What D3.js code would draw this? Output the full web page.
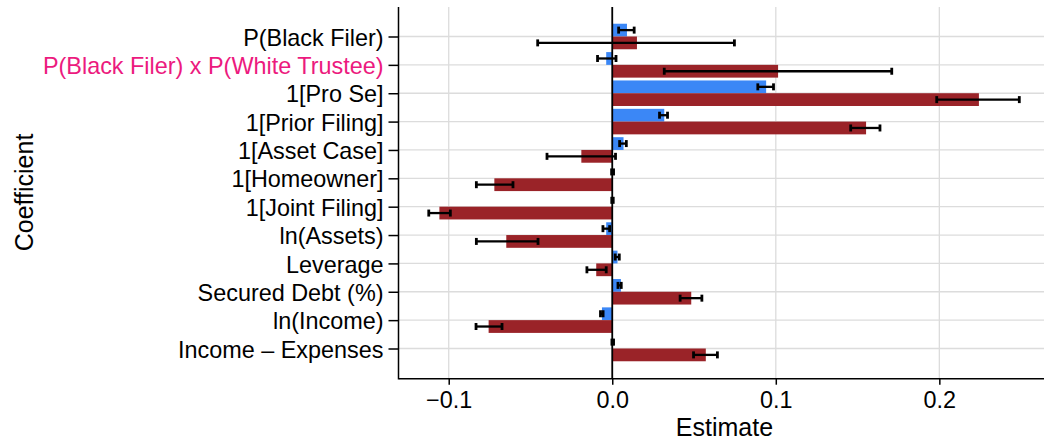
<!DOCTYPE html>
<html>
<head>
<meta charset="utf-8">
<script src="https://cdn.jsdelivr.net/npm/d3@7"></script>
<style>
  body { margin: 0; background: #fff; }
  svg text { font-family: "Liberation Sans", Arial, Helvetica, sans-serif; }
</style>
</head>
<body>
<svg id="chart" width="1044" height="441"></svg>
<script>
// coefficient names, top to bottom
var coefficients = [
  "P(Black Filer)",
  "P(Black Filer) x P(White Trustee)",
  "1[Pro Se]",
  "1[Prior Filing]",
  "1[Asset Case]",
  "1[Homeowner]",
  "1[Joint Filing]",
  "ln(Assets)",
  "Leverage",
  "Secured Debt (%)",
  "ln(Income)",
  "Income \u2013 Expenses"
];
var highlighted = "P(Black Filer) x P(White Trustee)";

// first model (blue bars, upper half of each row)
var blueEst = [0.009, -0.0037, 0.0941, 0.0318, 0.0069, 0.0003, 0.0002, -0.0037, 0.0032, 0.0053, -0.0063, 0.0003];
var blueLo  = [0.0039, -0.009, 0.089, 0.0289, 0.0045, -0.0004, -0.0003, -0.0057, 0.0018, 0.0035, -0.0072, -0.0002];
var blueHi  = [0.0134, 0.0023, 0.0986, 0.0338, 0.0086, 0.0008, 0.0006, -0.0016, 0.0043, 0.0055, -0.0056, 0.0008];

// second model (dark red bars, lower half of each row)
var redEst = [0.0151, 0.1014, 0.2242, 0.1552, -0.0189, -0.0721, -0.1057, -0.0648, -0.0098, 0.0483, -0.0756, 0.0572];
var redLo  = [-0.0456, 0.0318, 0.1984, 0.1458, -0.0399, -0.0831, -0.1122, -0.0831, -0.0155, 0.0415, -0.0833, 0.0497];
var redHi  = [0.0747, 0.1709, 0.2489, 0.1637, 0.002, -0.0607, -0.099, -0.0454, -0.0037, 0.0548, -0.0674, 0.0643];

var xTicks = [-0.1, 0.0, 0.1, 0.2];

var blueColor = "#3b87f6";
var redColor = "#9a2328";
var pink = "#ec1a7e";

var margin = {left: 399, right: 0, top: 7, bottom: 63};
var width = 1044, height = 441;
var svg = d3.select("#chart");

var x = d3.scaleLinear()
  .domain([-0.1304, 0.264])
  .range([margin.left, width - margin.right]);

var y = d3.scalePoint()
  .domain(coefficients)
  .range([margin.top, height - margin.bottom])
  .padding(1.04);

var step = y.step();
var half = step * 0.45;

// build rows for both series
var rows = [];
coefficients.forEach(function(c, i) {
  rows.push({coef: c, series: "blue", est: blueEst[i], lo: blueLo[i], hi: blueHi[i], off: -half});
  rows.push({coef: c, series: "red", est: redEst[i], lo: redLo[i], hi: redHi[i], off: 0});
});

// grid lines
svg.append("g").selectAll("line.vg")
  .data(xTicks)
  .enter().append("line")
  .attr("x1", function(d) { return x(d); })
  .attr("x2", function(d) { return x(d); })
  .attr("y1", margin.top)
  .attr("y2", height - margin.bottom)
  .attr("stroke", "#dcdcdc")
  .attr("stroke-width", 1.3);

svg.append("g").selectAll("line.hg")
  .data(coefficients)
  .enter().append("line")
  .attr("x1", margin.left)
  .attr("x2", width)
  .attr("y1", function(d) { return y(d); })
  .attr("y2", function(d) { return y(d); })
  .attr("stroke", "#dcdcdc")
  .attr("stroke-width", 1.3);

// bars
svg.append("g").selectAll("rect")
  .data(rows)
  .enter().append("rect")
  .attr("x", function(d) { return Math.min(x(0), x(d.est)); })
  .attr("width", function(d) { return Math.abs(x(d.est) - x(0)); })
  .attr("y", function(d) { return y(d.coef) + d.off; })
  .attr("height", half)
  .attr("fill", function(d) { return d.series === "blue" ? blueColor : redColor; });

// zero line
svg.append("line")
  .attr("x1", x(0)).attr("x2", x(0))
  .attr("y1", margin.top).attr("y2", height - margin.bottom)
  .attr("stroke", "#000")
  .attr("stroke-width", 1.8);

// error bars
var eb = svg.append("g").selectAll("g")
  .data(rows)
  .enter().append("g")
  .attr("stroke", "#000");

eb.append("line")
  .attr("x1", function(d) { return x(d.lo); })
  .attr("x2", function(d) { return x(d.hi); })
  .attr("y1", function(d) { return y(d.coef) + d.off + half / 2; })
  .attr("y2", function(d) { return y(d.coef) + d.off + half / 2; })
  .attr("stroke-width", 2.3);

["lo", "hi"].forEach(function(k) {
  eb.append("line")
    .attr("x1", function(d) { return x(d[k]); })
    .attr("x2", function(d) { return x(d[k]); })
    .attr("y1", function(d) { return y(d.coef) + d.off + half / 2 - 3.5; })
    .attr("y2", function(d) { return y(d.coef) + d.off + half / 2 + 3.5; })
    .attr("stroke-width", 2.8);
});

// axes
var xAxis = svg.append("g")
  .attr("transform", "translate(0," + (height - margin.bottom + 0.7) + ")")
  .call(d3.axisBottom(x).tickValues(xTicks).tickFormat(d3.format(".1f")).tickSizeInner(6).tickSizeOuter(0).tickPadding(7));
xAxis.select(".domain").attr("stroke-width", 1.5).attr("d", "M" + margin.left + ",0H" + width);
xAxis.selectAll(".tick line").attr("stroke-width", 1.5);
xAxis.selectAll("text").attr("font-size", 23.4).attr("fill", "#000");

var yAxis = svg.append("g")
  .attr("transform", "translate(" + (margin.left - 0.5) + ",0)")
  .call(d3.axisLeft(y).tickSizeInner(10).tickSizeOuter(0).tickPadding(5));
yAxis.select(".domain").attr("stroke-width", 1.5).attr("d", "M0," + margin.top + "V" + (height - margin.bottom + 1.4));
yAxis.selectAll(".tick line").attr("stroke-width", 1.5);
yAxis.selectAll("text")
  .attr("font-size", 23.4)
  .attr("dy", "0.37em")
  .attr("fill", function(d) { return d === highlighted ? pink : "#000"; });

// axis titles
svg.append("text")
  .attr("x", (margin.left + width) / 2 + 3)
  .attr("y", 436)
  .attr("text-anchor", "middle")
  .attr("font-size", 25)
  .text("Estimate");

svg.append("text")
  .attr("transform", "translate(33," + ((margin.top + height - margin.bottom) / 2) + ") rotate(-90)")
  .attr("text-anchor", "middle")
  .attr("font-size", 25)
  .text("Coefficient");
</script>
</body>
</html>
